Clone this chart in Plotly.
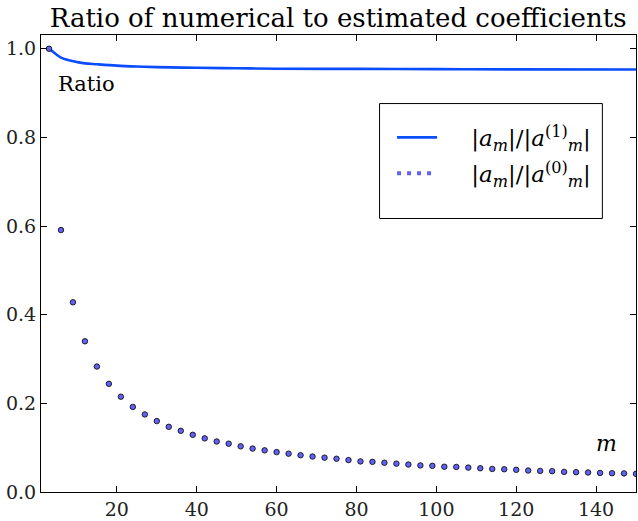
import plotly.graph_objects as go

# Dots: |a_m| / |a_m^(0)| at m = 3, 6, ..., 150
m_dots = list(range(3, 151, 3))
ratio0 = [1.000, 0.591, 0.428, 0.340, 0.283, 0.244, 0.215, 0.192, 0.175, 0.160,
          0.147, 0.138, 0.129, 0.121, 0.114, 0.109, 0.103, 0.098, 0.094, 0.090,
          0.0865, 0.083, 0.080, 0.0775, 0.075, 0.072, 0.069, 0.068, 0.066, 0.064,
          0.062, 0.060, 0.059, 0.057, 0.0565, 0.055, 0.0536, 0.052, 0.0514, 0.050,
          0.0485, 0.0476, 0.047, 0.0454, 0.0447, 0.044, 0.043, 0.0425, 0.042, 0.041]

# Line: |a_m| / |a_m^(1)|
m_line = [3, 4, 5, 6, 8, 10, 12, 15, 20, 25, 30, 40, 50, 60, 80, 100, 120, 150]
ratio1 = [1.000, 0.993, 0.986, 0.980, 0.974, 0.970, 0.967, 0.965, 0.962, 0.960,
          0.9585, 0.957, 0.956, 0.955, 0.9545, 0.954, 0.9535, 0.953]

x_ticks = [20, 40, 60, 80, 100, 120, 140]
y_ticks = [0.0, 0.2, 0.4, 0.6, 0.8, 1.0]

FONT = "DejaVu Serif"
DOT_COLOR = "#6262f2"
LINE_COLOR = "#0a4cff"

label1 = "&nbsp;&nbsp;&nbsp;&nbsp;|<i>a</i><sub><i>m</i></sub>|/|<i>a</i><sup>(1)</sup><sub><i>m</i></sub>|"
label0 = "&nbsp;&nbsp;&nbsp;&nbsp;|<i>a</i><sub><i>m</i></sub>|/|<i>a</i><sup>(0)</sup><sub><i>m</i></sub>|"

fig = go.Figure()
fig.add_trace(go.Scatter(
    x=m_line, y=ratio1, mode="lines", name=label1, legendgroup="g1",
    line=dict(color=LINE_COLOR, width=2.6, shape="spline"),
))
fig.add_trace(go.Scatter(
    x=m_dots, y=ratio0, mode="markers", name=label0, showlegend=False,
    marker=dict(color=DOT_COLOR, size=5.5, line=dict(color="black", width=0.8)),
))
# legend-only entry imitating the row of dots
fig.add_trace(go.Scatter(
    x=[None], y=[None], mode="lines", name=label0, legendgroup="g0",
    line=dict(color=DOT_COLOR, width=4, dash="4px,6px"),
))

fig.add_annotation(x=12.3, y=0.92, text="Ratio", showarrow=False,
                   font=dict(family=FONT, size=21, color="black"))
fig.add_annotation(x=142.5, y=0.11, text="<i>m</i>", showarrow=False,
                   font=dict(family=FONT, size=22, color="black"))

# legend frame
fig.add_shape(type="rect", xref="paper", yref="paper",
              x0=0.569, x1=0.9435, y0=0.5985, y1=0.85,
              line=dict(color="black", width=1), fillcolor="rgba(0,0,0,0)",
              layer="above")

axis_common = dict(
    showline=True, linecolor="black", linewidth=1.2, mirror="ticks",
    ticks="inside", ticklen=6, tickcolor="black", tickwidth=1,
    showgrid=False, zeroline=False,
    tickfont=dict(family=FONT, size=19, color="#222"),
)

fig.update_layout(
    width=638, height=521,
    margin=dict(l=41, r=1, t=35, b=24),
    paper_bgcolor="white", plot_bgcolor="white",
    font=dict(family=FONT),
    title=dict(text="Ratio of numerical to estimated coefficients",
               x=0.53, xanchor="center", y=0.983, yref="container", yanchor="top",
               font=dict(family=FONT, size=26, color="black")),
    xaxis=dict(range=[1, 150], tickvals=x_ticks, **axis_common),
    yaxis=dict(range=[0, 1.031], tickvals=y_ticks, tickformat=".1f", **axis_common),
    legend=dict(x=0.59, y=0.823, xanchor="left", yanchor="top",
                bgcolor="rgba(0,0,0,0)", borderwidth=0,
                font=dict(family=FONT, size=23, color="black"),
                itemwidth=40, traceorder="grouped", tracegroupgap=3),
    showlegend=True,
)

fig.write_html("out.html", config={"displayModeBar": False},
               post_script="document.body.style.margin='0';")
